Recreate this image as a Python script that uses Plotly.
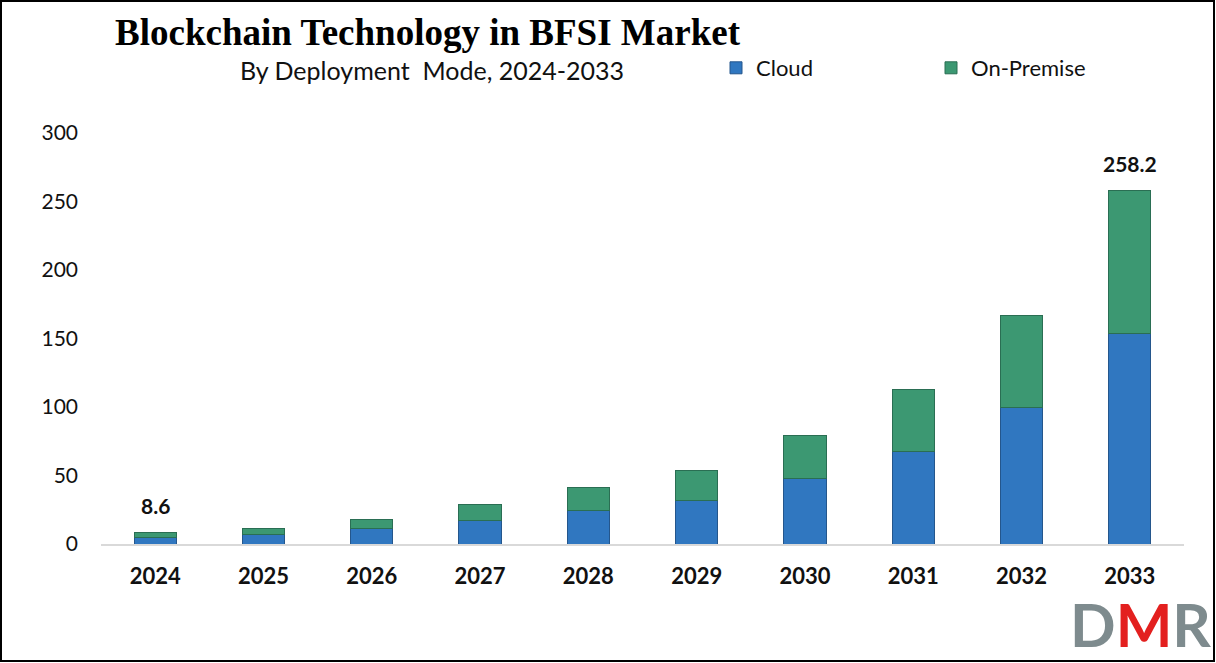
import plotly.graph_objects as go

years = ["2024", "2025", "2026", "2027", "2028", "2029", "2030", "2031", "2032", "2033"]
cloud = [5.0, 6.6, 11.2, 17.2, 24.2, 32.0, 47.5, 67.5, 100.0, 154.0]
on_premise = [3.6, 4.4, 7.0, 12.0, 17.2, 22.0, 32.0, 45.5, 67.0, 104.2]
label_years = ["2024", "2033"]
label_texts = ["8.6", "258.2"]
y_ticks = [0, 50, 100, 150, 200, 250, 300]

W, H = 1216, 663
L, R, T, B = 101, 32, 133, 119
pw = W - L - R
ph = H - T - B

def px_x(px):
    return (px - L) / pw

def px_y(py):
    return (H - B - py) / ph

fig = go.Figure()
fig.add_trace(go.Bar(
    x=years, y=cloud, name="Cloud",
    marker=dict(color="#3077C0", line=dict(color="#24568C", width=1)),
))
fig.add_trace(go.Bar(
    x=years, y=on_premise, name="On-Premise",
    marker=dict(color="#3C9872", line=dict(color="#2A6E53", width=1)),
))

totals = {y: c + o for y, c, o in zip(years, cloud, on_premise)}
for yr, txt in zip(label_years, label_texts):
    fig.add_annotation(
        x=years.index(yr), y=totals[yr], text=f"<b>{txt}</b>", showarrow=False,
        yanchor="bottom", yshift=12,
        font=dict(family="Lato", size=21, color="#111111"),
    )

# subtitle
fig.add_annotation(
    x=px_x(432), y=px_y(70), xref="paper", yref="paper",
    text="By Deployment  Mode, 2024-2033", showarrow=False,
    xanchor="center", yanchor="middle",
    font=dict(family="Lato", size=25, color="#111111"),
)

# logo
fig.add_annotation(
    x=px_x(1212), y=px_y(661), xref="paper", yref="paper",
    text="<b><span style='color:#7E8B8E'>D</span><span style='color:#E3201F'>M</span><span style='color:#7E8B8E'>R</span></b>",
    showarrow=False, xanchor="right", yanchor="bottom", borderpad=0,
    font=dict(family="Lato", size=60),
)

# frame
fig.add_shape(
    type="rect", xref="paper", yref="paper",
    x0=px_x(1), x1=px_x(1214), y0=px_y(661), y1=px_y(1),
    line=dict(color="#000000", width=2), fillcolor="rgba(0,0,0,0)",
    layer="above",
)

fig.update_layout(
    width=W, height=H,
    margin=dict(l=L, r=R, t=T, b=B),
    paper_bgcolor="white", plot_bgcolor="white",
    barmode="stack", bargap=0.61,
    title=dict(
        text="<b>Blockchain Technology in BFSI Market</b>",
        x=115 / W, xanchor="left", y=1 - 32 / H, yanchor="middle",
        font=dict(family="Liberation Serif", size=37, color="#000000"),
    ),
    legend=dict(
        orientation="h", x=px_x(716), y=px_y(68), xanchor="left", yanchor="middle",
        font=dict(family="Lato", size=22, color="#111111"),
        itemwidth=30, entrywidth=170, traceorder="normal",
        bgcolor="rgba(0,0,0,0)",
    ),
    showlegend=True,
    xaxis=dict(
        type="category", range=[-0.5, len(years) - 0.5],
        showgrid=False, showline=True, linecolor="#D9D9D9", linewidth=2,
        ticks="", tickfont=dict(family="Lato", size=22, color="#111111", weight="bold"),
        ticklabelstandoff=12,
    ),
    yaxis=dict(
        range=[0, 300], tickvals=y_ticks, showgrid=False, zeroline=False,
        showline=False, ticks="",
        tickfont=dict(family="Lato", size=21, color="#111111"),
        ticklabelstandoff=22,
    ),
)

fig.write_html(
    "out.html",
    config={"displayModeBar": False},
    post_script="document.body.style.margin='0';document.body.style.overflow='hidden';",
)
